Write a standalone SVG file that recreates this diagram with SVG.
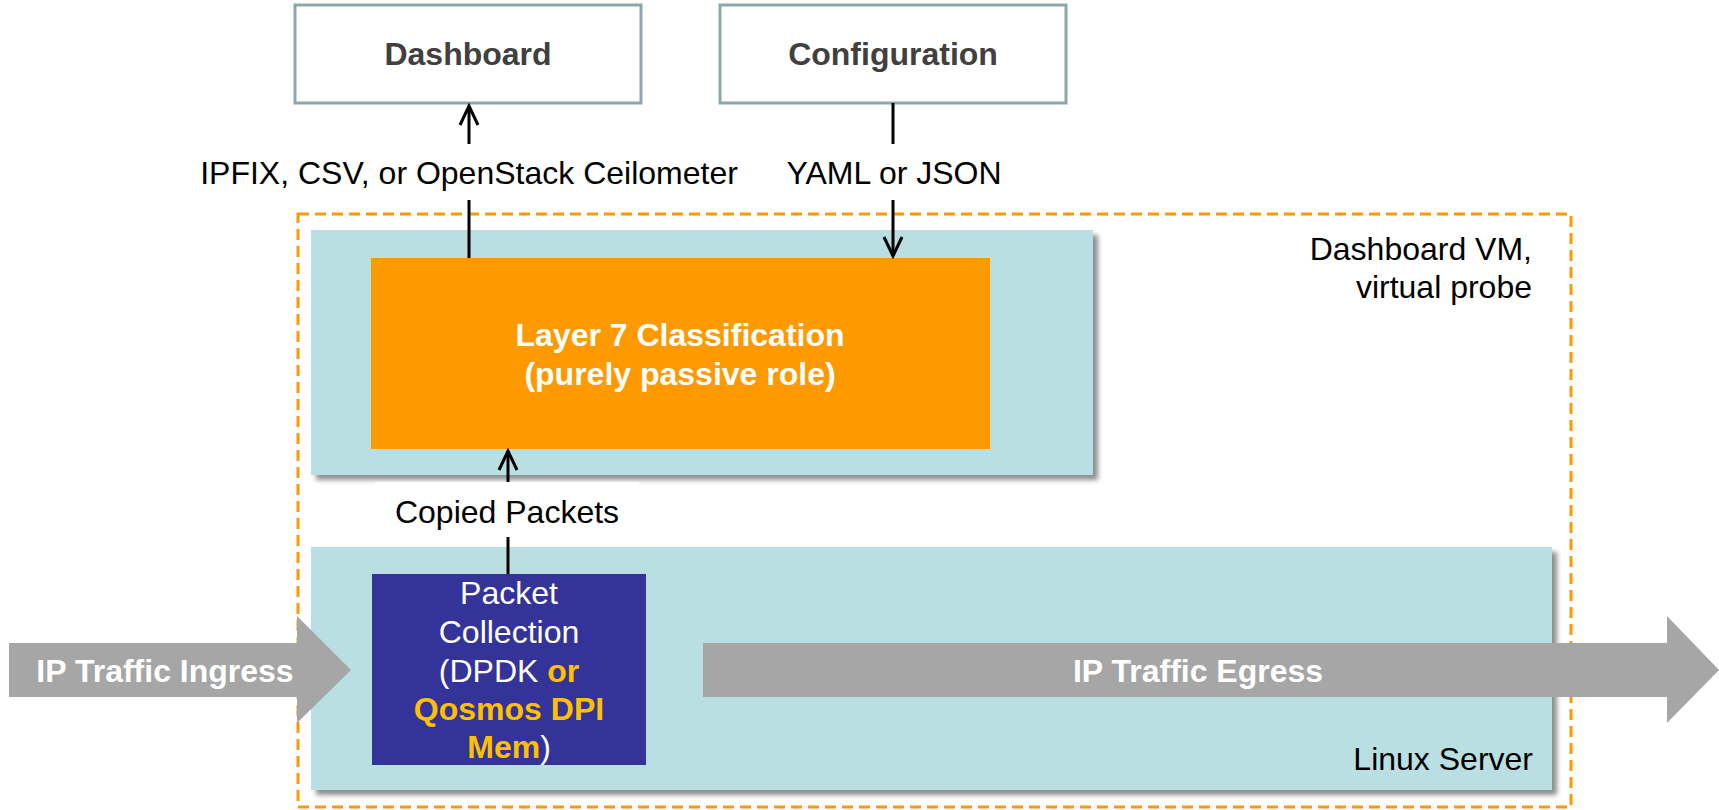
<svg xmlns="http://www.w3.org/2000/svg" width="1719" height="810" viewBox="0 0 1719 810">
  <style>
    .t { font-family: "Liberation Sans", Arial, sans-serif; font-size: 32px; }
    .b { font-weight: bold; }
    .lbl { fill: #000; }
    .top { fill: #404040; font-weight: bold; }
    .wh { fill: #fff; }
    .og { fill: #FFC000; font-weight: bold; }
    .box { fill: #fff; stroke: #8CA7A9; stroke-width: 3; }
    .teal { fill: #BADFE2; }
    .conn { stroke: #000; stroke-width: 3; fill: none; }
    .garrow { fill: #A6A6A6; }
  </style>
  <defs>
    <filter id="shadow" x="-5%" y="-5%" width="115%" height="120%">
      <feGaussianBlur in="SourceAlpha" stdDeviation="2.5"/>
      <feOffset dx="5" dy="5" result="o"/>
      <feComponentTransfer><feFuncA type="linear" slope="0.45"/></feComponentTransfer>
      <feMerge><feMergeNode/><feMergeNode in="SourceGraphic"/></feMerge>
    </filter>
    <marker id="ah" viewBox="0 0 24 24" markerWidth="24" markerHeight="24" refX="21" refY="12" orient="auto" markerUnits="userSpaceOnUse">
      <path d="M2,3 L21,12 L2,21" fill="none" stroke="#000" stroke-width="3"/>
    </marker>
  </defs>

  <g id="dashboard-vm">
    <rect x="298" y="214" width="1273" height="593" fill="none" stroke="#FF9900" stroke-width="3" stroke-dasharray="11,6"/>
    <text class="t lbl" x="1532" y="260" text-anchor="end">Dashboard VM,</text>
    <text class="t lbl" x="1532" y="298" text-anchor="end">virtual probe</text>
  </g>

  <g id="vm-layer">
    <rect class="teal" x="311" y="230" width="782" height="245" filter="url(#shadow)"/>
  </g>

  <g id="linux-server">
    <rect class="teal" x="311" y="547" width="1241" height="243" filter="url(#shadow)"/>
    <text class="t lbl" x="1533" y="770" text-anchor="end">Linux Server</text>
  </g>

  <g id="dashboard">
    <rect class="box" x="295" y="5" width="346" height="98"/>
    <text class="t top" x="468" y="65" text-anchor="middle">Dashboard</text>
  </g>

  <g id="configuration">
    <rect class="box" x="720" y="5" width="346" height="98"/>
    <text class="t top" x="893" y="65" text-anchor="middle">Configuration</text>
  </g>

  <g id="layer7">
    <rect x="371" y="258" width="619" height="191" fill="#FF9900"/>
    <text class="t b wh" x="680" y="346" text-anchor="middle">Layer 7 Classification</text>
    <text class="t b wh" x="680" y="385" text-anchor="middle">(purely passive role)</text>
  </g>

  <g id="packet-collection">
    <rect x="372" y="574" width="274" height="191" fill="#333399"/>
    <text class="t wh" x="509" y="604" text-anchor="middle">Packet</text>
    <text class="t wh" x="509" y="643" text-anchor="middle">Collection</text>
    <text class="t wh" x="509" y="682" text-anchor="middle">(DPDK <tspan class="og">or</tspan></text>
    <text class="t og" x="509" y="720" text-anchor="middle">Qosmos DPI</text>
    <text class="t og" x="509" y="758" text-anchor="middle">Mem<tspan class="wh" font-weight="normal">)</tspan></text>
  </g>

  <g id="ip-ingress">
    <polygon class="garrow" points="9,643 297,643 297,616 351,670 297,723 297,697 9,697"/>
    <text class="t b wh" x="165" y="682" text-anchor="middle">IP Traffic Ingress</text>
  </g>

  <g id="ip-egress">
    <polygon class="garrow" points="703,643 1667,643 1667,616 1719,670 1667,723 1667,697 703,697"/>
    <text class="t b wh" x="1198" y="682" text-anchor="middle">IP Traffic Egress</text>
  </g>

  <g id="connectors">
    <line class="conn" x1="469" y1="258" x2="469" y2="106" marker-end="url(#ah)"/>
    <line class="conn" x1="893" y1="103" x2="893" y2="256" marker-end="url(#ah)"/>
    <line class="conn" x1="508" y1="574" x2="508" y2="451" marker-end="url(#ah)"/>
  </g>

  <g id="connector-labels">
    <rect x="190" y="144" width="558" height="56" fill="#fff"/>
    <text class="t lbl" x="469" y="184" text-anchor="middle">IPFIX, CSV, or OpenStack Ceilometer</text>
    <rect x="780" y="144" width="226" height="56" fill="#fff"/>
    <text class="t lbl" x="894" y="184" text-anchor="middle">YAML or JSON</text>
    <rect x="375" y="482" width="264" height="55" fill="#fff"/>
    <text class="t lbl" x="507" y="523" text-anchor="middle">Copied Packets</text>
  </g>
</svg>
